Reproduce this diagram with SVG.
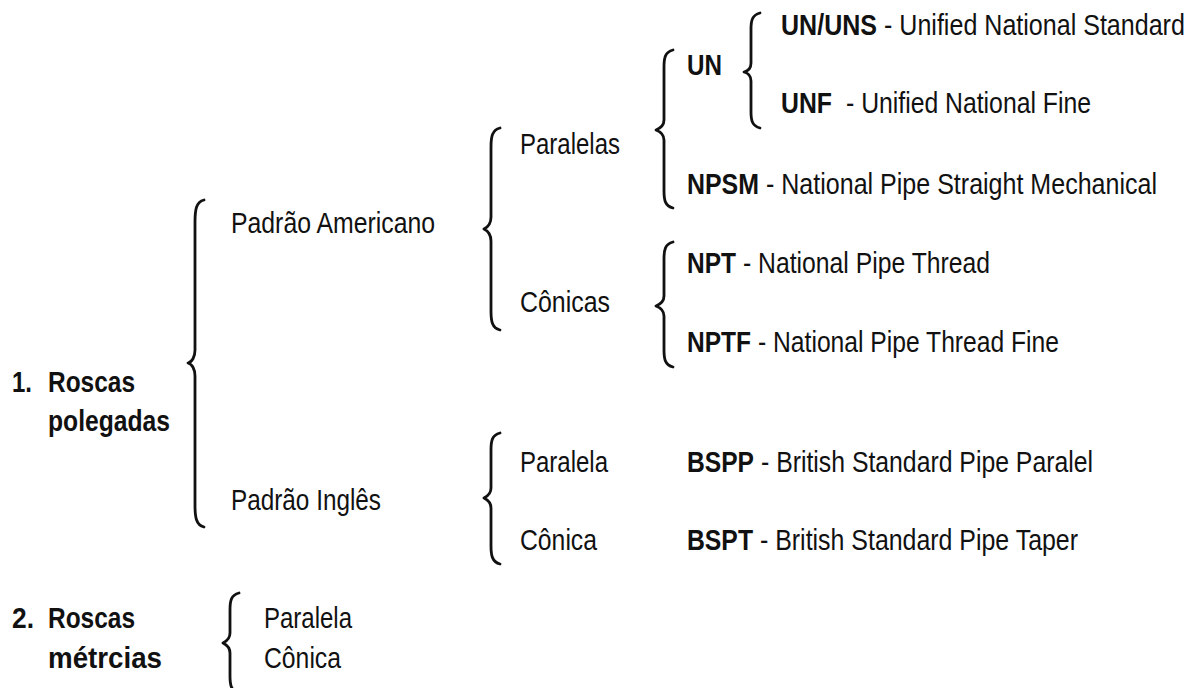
<svg xmlns="http://www.w3.org/2000/svg" width="1198" height="688" viewBox="0 0 1198 688">
<style>
text{font-family:"Liberation Sans Narrow","Liberation Sans",Arial,sans-serif;font-size:29.5px;fill:#111;}
.b{font-weight:bold;}
.br{fill:none;stroke:#111;stroke-width:2.8;stroke-linecap:round;stroke-linejoin:round;}
</style>
<rect width="1198" height="688" fill="#fff"/>
<g id="connectors">
<path class="br" d="M204,200 C196,202 195,210 195,222 L195,350 C195,357 192,362 188,363 C192,364 195,369 195,376 L195,505 C195,517 196,525 204,527"/>
<path class="br" d="M500,128 C492,130 491,137 491,147 L491,217 C491,223 488,227 484,229 C488,231 491,235 491,241 L491,311 C491,321 492,328 500,330"/>
<path class="br" d="M500,433 C492,435 491,441 491,450 L491,488 C491,493 488,496 484,498 C488,500 491,503 491,508 L491,546 C491,555 492,562 500,564"/>
<path class="br" d="M673,50 C665,52 664,58 664,67 L664,120 C664,125 661,128 656,130 C661,132 664,135 664,140 L664,191 C664,200 665,206 673,208"/>
<path class="br" d="M673,242 C665,244 664,250 664,259 L664,296 C664,301 661,304 656,306 C661,308 664,311 664,316 L664,350 C664,359 665,365 673,367"/>
<path class="br" d="M760,13 C752,15 751,21 751,29 L751,63 C751,68 748,71 744,72 C748,73 751,76 751,81 L751,112 C751,120 752,126 760,128"/>
<path class="br" d="M239,593 C231,595 230,601 230,610 L230,633 C230,638 227,641 223,643 C227,645 230,648 230,653 L230,676 C230,685 231,691 239,693"/>
</g>
<g id="n-polegadas">
<text x="12" y="392" textLength="20" lengthAdjust="spacingAndGlyphs" class="b">1.</text>
<text x="48" y="392" textLength="87" lengthAdjust="spacingAndGlyphs" class="b">Roscas</text>
<text x="48" y="431" textLength="122" lengthAdjust="spacingAndGlyphs" class="b">polegadas</text>
</g>
<g id="n-americano">
<text x="231" y="233" textLength="204" lengthAdjust="spacingAndGlyphs">Padrão Americano</text>
</g>
<g id="n-ingles">
<text x="231" y="510" textLength="150" lengthAdjust="spacingAndGlyphs">Padrão Inglês</text>
</g>
<g id="n-paralelas">
<text x="520" y="154" textLength="100" lengthAdjust="spacingAndGlyphs">Paralelas</text>
</g>
<g id="n-conicas">
<text x="520" y="312" textLength="90" lengthAdjust="spacingAndGlyphs">Cônicas</text>
</g>
<g id="n-un">
<text x="687" y="75" textLength="35" lengthAdjust="spacingAndGlyphs" class="b">UN</text>
</g>
<g id="n-ununs">
<text x="781" y="35" textLength="96" lengthAdjust="spacingAndGlyphs" class="b">UN/UNS</text>
<text transform="translate(884,35) scale(0.85,1)" x="0" y="0" textLength="354" lengthAdjust="spacingAndGlyphs">- Unified National Standard</text>
</g>
<g id="n-unf">
<text x="781" y="113" textLength="51" lengthAdjust="spacingAndGlyphs" class="b">UNF</text>
<text x="846" y="113" textLength="245" lengthAdjust="spacingAndGlyphs">- Unified National Fine</text>
</g>
<g id="n-npsm">
<text x="687" y="194" textLength="72" lengthAdjust="spacingAndGlyphs" class="b">NPSM</text>
<text transform="translate(766,194) scale(0.85,1)" x="0" y="0" textLength="460" lengthAdjust="spacingAndGlyphs">- National Pipe Straight Mechanical</text>
</g>
<g id="n-npt">
<text x="687" y="273" textLength="49" lengthAdjust="spacingAndGlyphs" class="b">NPT</text>
<text x="743" y="273" textLength="247" lengthAdjust="spacingAndGlyphs">- National Pipe Thread</text>
</g>
<g id="n-nptf">
<text x="687" y="352" textLength="64" lengthAdjust="spacingAndGlyphs" class="b">NPTF</text>
<text x="758" y="352" textLength="301" lengthAdjust="spacingAndGlyphs">- National Pipe Thread Fine</text>
</g>
<g id="n-paralela">
<text x="520" y="472" textLength="88" lengthAdjust="spacingAndGlyphs">Paralela</text>
</g>
<g id="n-conica">
<text x="520" y="550" textLength="77" lengthAdjust="spacingAndGlyphs">Cônica</text>
</g>
<g id="n-bspp">
<text x="687" y="472" textLength="67" lengthAdjust="spacingAndGlyphs" class="b">BSPP</text>
<text x="761" y="472" textLength="332" lengthAdjust="spacingAndGlyphs">- British Standard Pipe Paralel</text>
</g>
<g id="n-bspt">
<text x="687" y="550" textLength="66" lengthAdjust="spacingAndGlyphs" class="b">BSPT</text>
<text x="760" y="550" textLength="318" lengthAdjust="spacingAndGlyphs">- British Standard Pipe Taper</text>
</g>
<g id="n-metricas">
<text x="12" y="628" textLength="22" lengthAdjust="spacingAndGlyphs" class="b">2.</text>
<text x="48" y="628" textLength="87" lengthAdjust="spacingAndGlyphs" class="b">Roscas</text>
<text x="48" y="668" textLength="114" lengthAdjust="spacingAndGlyphs" class="b">métrcias</text>
</g>
<g id="n-met-paralela">
<text x="264" y="628" textLength="88" lengthAdjust="spacingAndGlyphs">Paralela</text>
</g>
<g id="n-met-conica">
<text x="264" y="668" textLength="77" lengthAdjust="spacingAndGlyphs">Cônica</text>
</g>
</svg>
